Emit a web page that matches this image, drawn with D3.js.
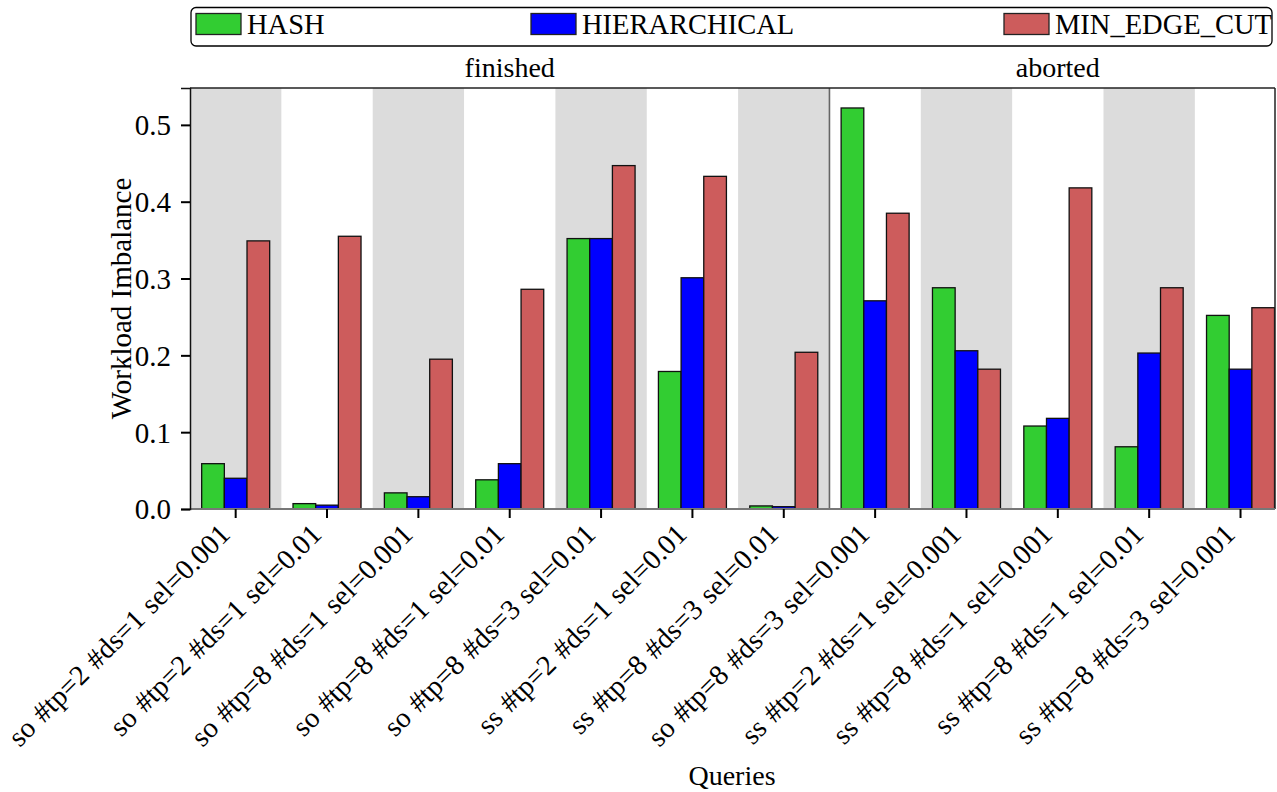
<!DOCTYPE html>
<html>
<head>
<meta charset="utf-8">
<script src="https://cdn.jsdelivr.net/npm/d3@7"></script>
<style>
  html, body { margin: 0; padding: 0; background: #fff; }
  svg { display: block; font-family: "Liberation Serif", "Times New Roman", serif; }
</style>
</head>
<body>
<svg id="chart" width="1277" height="792"></svg>
<script>
// Query configurations, in plotting order
const categories = [
  "so #tp=2 #ds=1 sel=0.001",
  "so #tp=2 #ds=1 sel=0.01",
  "so #tp=8 #ds=1 sel=0.001",
  "so #tp=8 #ds=1 sel=0.01",
  "so #tp=8 #ds=3 sel=0.01",
  "ss #tp=2 #ds=1 sel=0.01",
  "ss #tp=8 #ds=3 sel=0.01",
  "so #tp=8 #ds=3 sel=0.001",
  "ss #tp=2 #ds=1 sel=0.001",
  "ss #tp=8 #ds=1 sel=0.001",
  "ss #tp=8 #ds=1 sel=0.01",
  "ss #tp=8 #ds=3 sel=0.001"
];
// Facet each query falls into
const status = ["finished", "finished", "finished", "finished", "finished", "finished", "finished",
                "aborted", "aborted", "aborted", "aborted", "aborted"];
const facets = ["finished", "aborted"];

const series = ["HASH", "HIERARCHICAL", "MIN_EDGE_CUT"];
const hash         = [0.059, 0.007, 0.021, 0.038, 0.352, 0.179, 0.004, 0.522, 0.288, 0.108, 0.081, 0.252];
const hierarchical = [0.040, 0.005, 0.016, 0.059, 0.352, 0.301, 0.003, 0.271, 0.206, 0.118, 0.203, 0.182];
const minEdgeCut   = [0.349, 0.355, 0.195, 0.286, 0.447, 0.433, 0.204, 0.385, 0.182, 0.418, 0.288, 0.262];

const yTicks = [0.0, 0.1, 0.2, 0.3, 0.4, 0.5];
const yDomain = [0, 0.548];

const colors = ["#32cd32", "#0000ff", "#cd5c5c"];
const valuesBySeries = [hash, hierarchical, minEdgeCut];

const svg = d3.select("#chart");

// plot geometry
const plotLeft = 190, plotTop = 88, plotBottom = 509, step = 91.35;
const frameRight = 1275;
const groupWidth = 68;

const x = d3.scaleBand().domain(categories).range([plotLeft, plotLeft + step * categories.length]).padding(0);
const y = d3.scaleLinear().domain(yDomain).range([plotBottom, plotTop]);
const xs = d3.scaleBand().domain(series).range([0, groupWidth]).padding(0);

svg.append("defs").append("clipPath").attr("id", "plotClip")
  .append("rect").attr("x", plotLeft).attr("y", plotTop - 2)
  .attr("width", frameRight - plotLeft).attr("height", plotBottom - plotTop + 4);

const plot = svg.append("g").attr("clip-path", "url(#plotClip)");

// alternating background bands
plot.append("g").selectAll("rect")
  .data(categories.filter((c, i) => i % 2 === 0))
  .join("rect")
  .attr("x", d => x(d))
  .attr("y", plotTop)
  .attr("width", x.bandwidth())
  .attr("height", plotBottom - plotTop)
  .attr("fill", "#dcdcdc");

// grouped bars
const rows = categories.map((c, i) => ({ c, vals: series.map((s, k) => ({ s, k, v: valuesBySeries[k][i] })) }));
const groups = plot.append("g").selectAll("g")
  .data(rows)
  .join("g")
  .attr("transform", d => `translate(${x(d.c) + (x.bandwidth() - groupWidth) / 2},0)`);

groups.selectAll("rect")
  .data(d => d.vals)
  .join("rect")
  .attr("x", d => xs(d.s))
  .attr("y", d => y(d.v))
  .attr("width", xs.bandwidth())
  .attr("height", d => y(0) - y(d.v))
  .attr("fill", d => colors[d.k])
  .attr("stroke", "#111")
  .attr("stroke-width", 1.3);

// facet divider
const divX = x(categories[status.indexOf("aborted")]);
svg.append("line")
  .attr("x1", divX).attr("x2", divX).attr("y1", plotTop).attr("y2", plotBottom)
  .attr("stroke", "#666").attr("stroke-width", 1.6);

// frame: top and right edges dark, baseline gray
svg.append("line").attr("x1", plotLeft).attr("x2", frameRight).attr("y1", plotTop).attr("y2", plotTop)
  .attr("stroke", "#222").attr("stroke-width", 1.5);
svg.append("line").attr("x1", frameRight).attr("x2", frameRight).attr("y1", plotTop).attr("y2", plotBottom)
  .attr("stroke", "#222").attr("stroke-width", 1.5);
svg.append("line").attr("x1", plotLeft).attr("x2", frameRight).attr("y1", plotBottom).attr("y2", plotBottom)
  .attr("stroke", "#777").attr("stroke-width", 1.8);

// y axis
const yAxis = svg.append("g")
  .attr("transform", `translate(${plotLeft},0)`)
  .call(d3.axisLeft(y).tickValues(yTicks).tickFormat(d3.format(".1f")).tickSize(9).tickPadding(10));
yAxis.select(".domain").attr("stroke", "#111").attr("stroke-width", 1.5);
yAxis.selectAll(".tick line").attr("stroke", "#000").attr("stroke-width", 2);
yAxis.selectAll(".tick text").attr("font-size", 29).attr("font-family", "Liberation Serif, serif")
  .attr("fill", "#000").attr("dy", "0.34em");

// x axis ticks and rotated labels
const xAxis = svg.append("g")
  .attr("transform", `translate(0,${plotBottom})`)
  .call(d3.axisBottom(x).tickSize(9).tickFormat(""));
xAxis.select(".domain").remove();
xAxis.selectAll(".tick line").attr("stroke", "#000").attr("stroke-width", 2);

svg.append("g").selectAll("text")
  .data(categories)
  .join("text")
  .attr("transform", d => `translate(${x(d) + x.bandwidth() / 2 - 4},536) rotate(-45)`)
  .attr("text-anchor", "end")
  .attr("font-size", 28.5)
  .attr("word-spacing", 1.5)
  .attr("fill", "#000")
  .text(d => d);

// facet titles
svg.append("g").selectAll("text")
  .data(facets)
  .join("text")
  .attr("x", f => {
    const cs = categories.filter((c, i) => status[i] === f);
    return (x(cs[0]) + x(cs[cs.length - 1]) + x.bandwidth()) / 2;
  })
  .attr("y", 77)
  .attr("text-anchor", "middle")
  .attr("font-size", 28)
  .attr("fill", "#000")
  .text(f => f);

// axis titles
svg.append("text")
  .attr("transform", `translate(131,${(plotTop + plotBottom) / 2}) rotate(-90)`)
  .attr("text-anchor", "middle")
  .attr("font-size", 29)
  .attr("fill", "#000")
  .text("Workload Imbalance");

svg.append("text")
  .attr("x", 732).attr("y", 785)
  .attr("text-anchor", "middle")
  .attr("font-size", 28)
  .attr("fill", "#000")
  .text("Queries");

// legend
const legend = svg.append("g");
legend.append("rect")
  .attr("x", 191).attr("y", 7.5).attr("width", 1081).attr("height", 38.5).attr("rx", 5)
  .attr("fill", "#fff").attr("stroke", "#000").attr("stroke-width", 1.3);
const legendX = [196, 531, 1004];
const items = legend.selectAll("g.item")
  .data(series)
  .join("g")
  .attr("class", "item")
  .attr("transform", (d, i) => `translate(${legendX[i]},0)`);
items.append("rect")
  .attr("x", 0).attr("y", 13.5).attr("width", 45).attr("height", 21)
  .attr("fill", (d, i) => colors[i]).attr("stroke", "#222").attr("stroke-width", 1.3);
items.append("text")
  .attr("x", 51).attr("y", 34)
  .attr("font-size", 28.5).attr("fill", "#000")
  .text(d => d);
</script>
</body>
</html>
